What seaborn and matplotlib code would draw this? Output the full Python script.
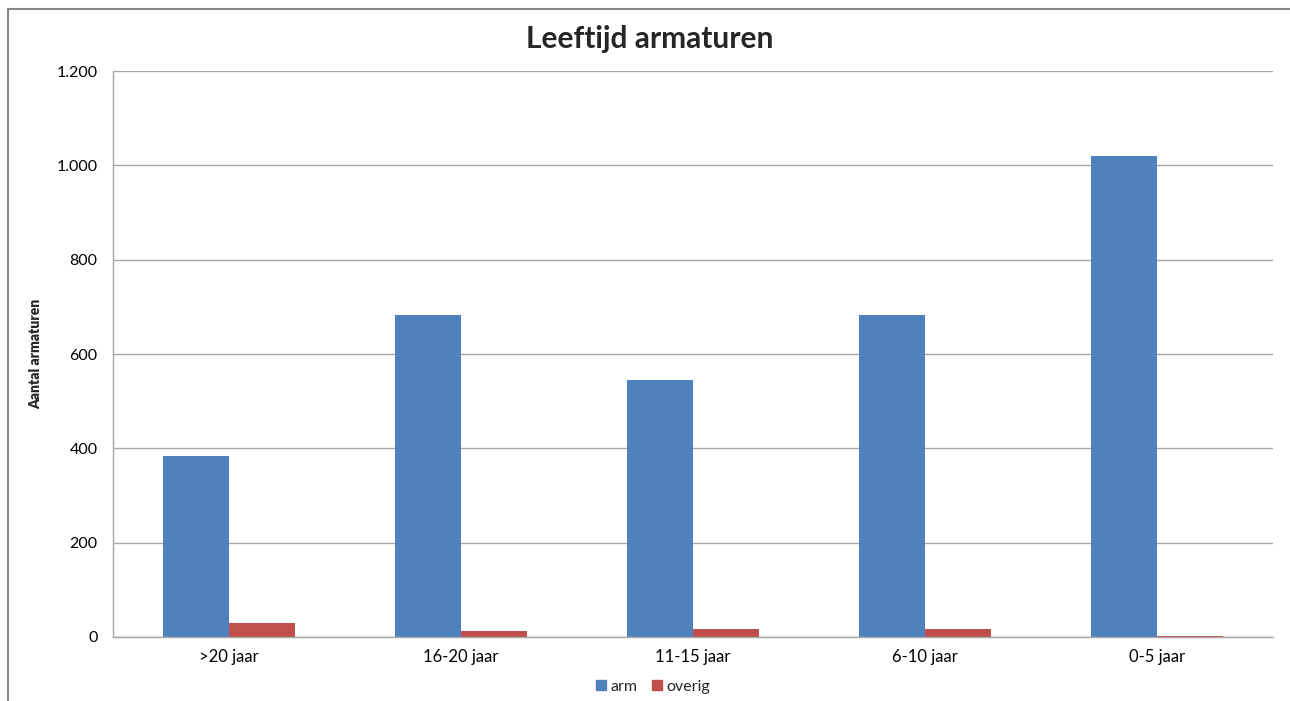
import matplotlib
matplotlib.use("Agg")
import matplotlib.pyplot as plt
from matplotlib.ticker import FuncFormatter, FixedLocator
from matplotlib.lines import Line2D
import seaborn as sns
import pandas as pd

# Age classes of the light fittings and counts per type
categories = [">20 jaar", "16-20 jaar", "11-15 jaar", "6-10 jaar", "0-5 jaar"]
arm = [383, 682, 545, 682, 1019]
overig = [30, 12, 18, 16, 2]
series_names = ["arm", "overig"]
colors = ["#4F81BD", "#C0504D"]

df = pd.DataFrame({
    "leeftijd": categories * 2,
    "type": [series_names[0]] * len(categories) + [series_names[1]] * len(categories),
    "aantal": arm + overig,
})

sns.set_theme(style="white")
plt.rcParams["font.family"] = ["Lato", "DejaVu Sans"]

fig = plt.figure(figsize=(12.9, 7.01), dpi=100)
ax = fig.add_axes([0.0876, 0.0913, 0.8992, 0.8074])

sns.barplot(data=df, x="leeftijd", y="aantal", hue="type", order=categories,
            hue_order=series_names, palette=colors, width=0.57, gap=0,
            saturation=1, edgecolor="none", ax=ax)

ax.set_xlim(-0.5, len(categories) - 0.5)
ax.set_ylim(0, 1200)
ax.set_yticks([0, 200, 400, 600, 800, 1000, 1200])
ax.yaxis.set_major_formatter(FuncFormatter(lambda v, p: f"{int(v):,}".replace(",", ".")))

grid_c = "#A6A6A6"
ax.yaxis.grid(True, color=grid_c, linewidth=1)
ax.set_axisbelow(True)
for s in ["top", "right"]:
    ax.spines[s].set_visible(False)
for s in ["left", "bottom"]:
    ax.spines[s].set_color(grid_c)
    ax.spines[s].set_linewidth(1)

# category labels centred, tick marks at category boundaries
ax.tick_params(axis="x", which="major", length=0, pad=9, labelsize=12, labelcolor="#000000")
ax.xaxis.set_minor_locator(FixedLocator([i - 0.5 for i in range(len(categories) + 1)]))
ax.tick_params(axis="x", which="minor", length=5, width=1, color=grid_c, direction="out")
ax.tick_params(axis="y", which="major", length=5, width=1, color=grid_c, direction="out",
               pad=6, labelsize=11.5, labelcolor="#000000")

ax.set_xlabel("")
ax.set_ylabel("Aantal armaturen", fontsize=10, fontweight="heavy")
ax.yaxis.set_label_coords(-0.0612, 0.5)

fig.text(0.504, 0.945, "Leeftijd armaturen", ha="center", va="center",
         fontsize=21.5, fontweight="bold")

ax.legend_.remove()
handles = [Line2D([0], [0], marker="s", linestyle="none", markersize=7,
                  markerfacecolor=c, markeredgecolor=c) for c in colors]
fig.legend(handles, series_names, loc="center", bbox_to_anchor=(0.506, 0.02),
           ncol=2, frameon=False, fontsize=11.5, handlelength=0.8, handletextpad=0.2,
           columnspacing=0.8)

# outer chart frame
frame_c = "#868686"
fig.add_artist(Line2D([8 / 1290, 8 / 1290], [0, 1 - 9 / 701], transform=fig.transFigure,
                      color=frame_c, linewidth=1.5))
fig.add_artist(Line2D([8 / 1290, 1], [1 - 9 / 701, 1 - 9 / 701], transform=fig.transFigure,
                      color=frame_c, linewidth=1.5))

fig.savefig("out.png", dpi=100)
